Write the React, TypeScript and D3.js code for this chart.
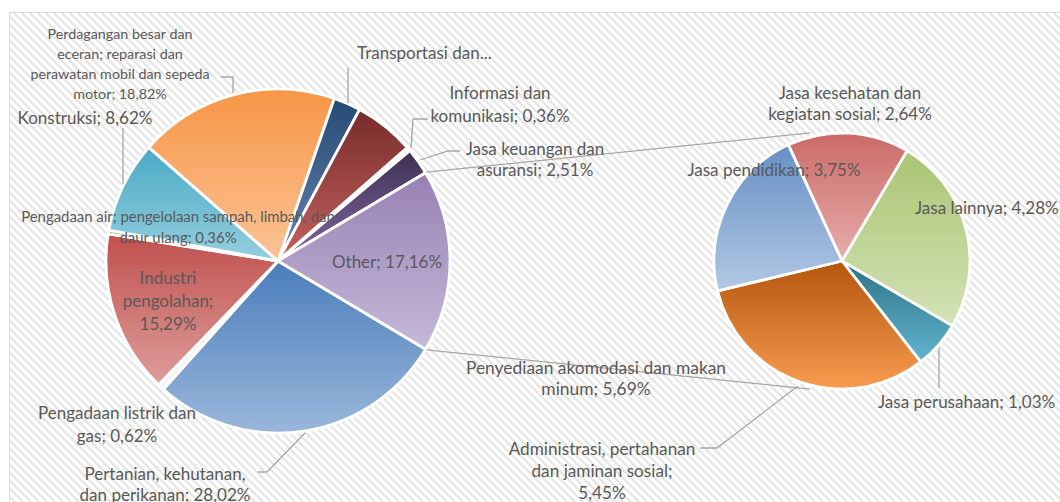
import React from "react";
import * as d3 from "d3";

// ---------- data ----------
const mainCategories = [
  "Pertanian, kehutanan, dan perikanan",
  "Pengadaan listrik dan gas",
  "Industri pengolahan",
  "Pengadaan air; pengelolaan sampah, limbah, dan daur ulang",
  "Konstruksi",
  "Perdagangan besar dan eceran; reparasi dan perawatan mobil dan sepeda motor",
  "Transportasi dan pergudangan",
  "Penyediaan akomodasi dan makan minum",
  "Informasi dan komunikasi",
  "Jasa keuangan dan asuransi",
  "Other",
];
const mainValues = [28.02, 0.62, 15.29, 0.36, 8.62, 18.82, 2.55, 5.69, 0.36, 2.51, 17.16];

const otherCategories = [
  "Jasa kesehatan dan kegiatan sosial",
  "Jasa lainnya",
  "Jasa perusahaan",
  "Administrasi, pertahanan dan jaminan sosial",
  "Jasa pendidikan",
];
const otherValues = [2.64, 4.28, 1.03, 5.45, 3.75];

// ---------- styles / layout ----------
const mainColors: [string, string][] = [
  ["#4a7dbb", "#9ab7da"],
  ["#eef1f6", "#f4f6f9"],
  ["#c0504d", "#dd9d9b"],
  ["#9bbb59", "#b5cf80"],
  ["#48aac5", "#96cfdf"],
  ["#f79646", "#fbc396"],
  ["#264a74", "#6585b0"],
  ["#772c2a", "#c4625f"],
  ["#f2f0f4", "#f6f4f8"],
  ["#3f3151", "#8167a6"],
  ["#9781b4", "#c6b9d8"],
];
const otherColors: [string, string][] = [
  ["#cb6a67", "#e7aeac"],
  ["#a9c572", "#d4e2b7"],
  ["#2d7186", "#61b6ce"],
  ["#b4560c", "#f89c50"],
  ["#6690c6", "#b3c8e3"],
];

const W = 1060;
const H = 502;
const mainC = { x: 278, y: 261, r: 172 };
const subC = { x: 842, y: 261, r: 128 };
const TEXT = "#595959";
const LINE = "#a6a6a6";
const FONT = "Lato, 'Open Sans', sans-serif";

type Lbl = { lines: string[]; x: number; y: number; lh: number; fs: number; anchor?: string };
const labels: Lbl[] = [
  { lines: ["Perdagangan besar dan", "eceran; reparasi dan", "perawatan mobil dan sepeda", "motor; 18,82%"], x: 120, y: 33, lh: 20, fs: 14.3 },
  { lines: ["Konstruksi; 8,62%"], x: 85, y: 117, lh: 22, fs: 17 },
  { lines: ["Transportasi dan..."], x: 357, y: 52, lh: 22, fs: 17, anchor: "start" },
  { lines: ["Informasi dan", "komunikasi; 0,36%"], x: 500, y: 92, lh: 23, fs: 17 },
  { lines: ["Jasa keuangan dan", "asuransi; 2,51%"], x: 535, y: 148, lh: 21, fs: 17 },
  { lines: ["Pengadaan air; pengelolaan sampah, limbah, dan", "daur ulang; 0,36%"], x: 178, y: 216, lh: 21, fs: 14.9 },
  { lines: ["Industri", "pengolahan;", "15,29%"], x: 168, y: 277, lh: 23, fs: 17 },
  { lines: ["Other; 17,16%"], x: 387, y: 261, lh: 22, fs: 17 },
  { lines: ["Pengadaan listrik dan", "gas; 0,62%"], x: 117, y: 412, lh: 23, fs: 17 },
  { lines: ["Pertanian, kehutanan,", "dan perikanan; 28,02%"], x: 165, y: 473, lh: 21, fs: 17 },
  { lines: ["Jasa kesehatan dan", "kegiatan sosial; 2,64%"], x: 850, y: 92, lh: 21, fs: 17 },
  { lines: ["Jasa pendidikan; 3,75%"], x: 774, y: 169, lh: 22, fs: 17 },
  { lines: ["Jasa lainnya; 4,28%"], x: 915, y: 207, lh: 22, fs: 17, anchor: "start" },
  { lines: ["Jasa perusahaan; 1,03%"], x: 878, y: 401, lh: 22, fs: 17, anchor: "start" },
  { lines: ["Penyediaan akomodasi dan makan", "minum; 5,69%"], x: 596, y: 367, lh: 21, fs: 17.4 },
  { lines: ["Administrasi, pertahanan", "dan jaminan sosial;", "5,45%"], x: 602, y: 448, lh: 22, fs: 17.2 },
];

const leaders: [number, number][][] = [
  [[221, 77], [233, 77], [233, 93]],
  [[123, 128], [123, 184]],
  [[348, 68], [348, 103]],
  [[428, 119], [413, 119], [411, 148]],
  [[460, 151], [448, 151], [420, 160]],
  [[258, 472], [267, 472], [305, 433]],
  [[700, 448], [717, 448], [798, 386]],
  [[939, 348], [939, 388]],
];

const deg = Math.PI / 180;

export default function App() {
  const mainTotal = d3.sum(mainValues);
  const otherSpan = (mainValues[mainValues.length - 1] / mainTotal) * 2 * Math.PI;
  const mainStart = Math.PI / 2 + otherSpan / 2;
  const mainPie = d3
    .pie<number>()
    .sort(null)
    .startAngle(mainStart)
    .endAngle(mainStart + 2 * Math.PI)(mainValues);
  const subPie = d3
    .pie<number>()
    .sort(null)
    .startAngle(-24.8 * deg)
    .endAngle(-24.8 * deg + 2 * Math.PI)(otherValues);

  const mainArc = d3.arc<d3.PieArcDatum<number>>().innerRadius(0).outerRadius(mainC.r);
  const subArc = d3.arc<d3.PieArcDatum<number>>().innerRadius(0).outerRadius(subC.r);

  const otherSlice = mainPie[mainPie.length - 1];
  const pt = (c: { x: number; y: number }, r: number, a: number) => [c.x + r * Math.sin(a), c.y - r * Math.cos(a)];
  const topA = pt(mainC, mainC.r + 1, otherSlice.startAngle);
  const botA = pt(mainC, mainC.r + 1, otherSlice.endAngle);
  const topB = pt(subC, subC.r + 4, -14 * deg);
  const botB = pt(subC, subC.r + 4, 194 * deg);

  // hatch pattern pixels (wide downward diagonal)
  const hatch: [number, number][] = [];
  for (let row = 0; row < 8; row++) for (let k = 0; k < 3; k++) hatch.push([(row + k) % 8, row]);

  return (
    <svg width={W} height={H} style={{ position: "absolute", left: 0, top: 0, background: "#fff" }} fontFamily={FONT}>
      <defs>
        <pattern id="hatch" width={8} height={8} patternUnits="userSpaceOnUse">
          <rect width={8} height={8} fill="#ffffff" />
          {hatch.map(([x, y], i) => (
            <rect key={i} x={x} y={y} width={1} height={1} fill="#e6e6e6" shapeRendering="crispEdges" />
          ))}
        </pattern>
        {mainColors.map((c, i) => (
          <linearGradient key={"m" + i} id={"gm" + i} x1="0" y1="0" x2="0" y2="1">
            <stop offset="0" stopColor={c[0]} />
            <stop offset="1" stopColor={c[1]} />
          </linearGradient>
        ))}
        {otherColors.map((c, i) => (
          <linearGradient key={"s" + i} id={"gs" + i} x1="0" y1="0" x2="0" y2="1">
            <stop offset="0" stopColor={c[0]} />
            <stop offset="1" stopColor={c[1]} />
          </linearGradient>
        ))}
      </defs>
      <rect x={9.5} y={12.5} width={W + 20} height={H + 20} fill="url(#hatch)" stroke="#d9d9d9" strokeWidth={1} />

      <g transform={`translate(${mainC.x},${mainC.y})`}>
        {mainPie.map((d, i) => (
          <path key={i} d={mainArc(d) || ""} fill={`url(#gm${i})`} stroke="#fff" strokeWidth={2.8} strokeLinejoin="round">
            <title>{mainCategories[i]}</title>
          </path>
        ))}
      </g>
      <g transform={`translate(${subC.x},${subC.y})`}>
        {subPie.map((d, i) => (
          <path key={i} d={subArc(d) || ""} fill={`url(#gs${i})`} stroke="#fff" strokeWidth={2.8} strokeLinejoin="round">
            <title>{otherCategories[i]}</title>
          </path>
        ))}
      </g>

      <line x1={topA[0]} y1={topA[1]} x2={topB[0]} y2={topB[1]} stroke={LINE} strokeWidth={1.3} />
      <line x1={botA[0]} y1={botA[1]} x2={botB[0]} y2={botB[1]} stroke={LINE} strokeWidth={1.3} />

      {leaders.map((p, i) => (
        <polyline key={i} points={p.map((q) => q.join(",")).join(" ")} fill="none" stroke={LINE} strokeWidth={1.3} />
      ))}

      {labels.map((l, i) => (
        <text key={i} x={l.x} y={l.y} fontSize={l.fs} fill={TEXT} textAnchor={l.anchor || "middle"} dominantBaseline="central">
          {l.lines.map((s, j) => (
            <tspan key={j} x={l.x} y={l.y + j * l.lh}>
              {s}
            </tspan>
          ))}
        </text>
      ))}
    </svg>
  );
}
